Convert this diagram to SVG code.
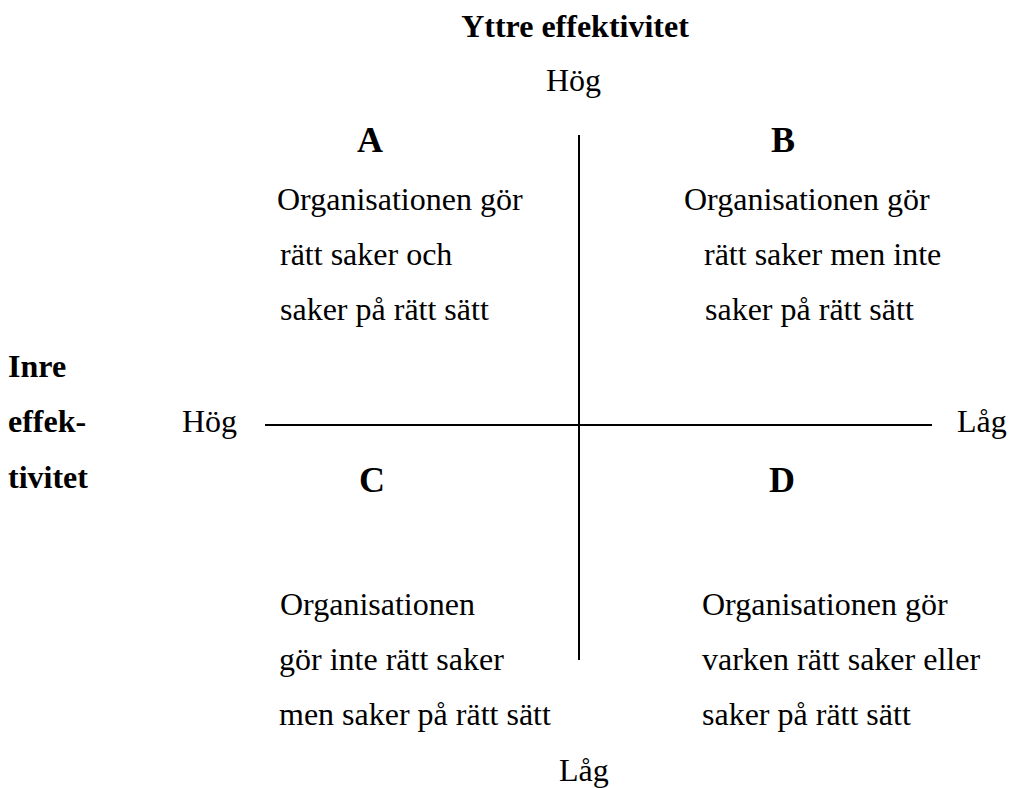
<svg xmlns="http://www.w3.org/2000/svg" width="1009" height="788" viewBox="0 0 1009 788">
<style>
text{font-family:"Liberation Serif","Times New Roman",serif;fill:#000;font-size:32px}
.b{font-weight:bold}
.L{font-weight:bold;font-size:36px}
line{stroke:#000;stroke-width:2}
</style>
<rect width="1009" height="788" fill="#fff"/>
<g id="connectors">
<line x1="579" y1="135" x2="579" y2="660"/>
<line x1="265" y1="425" x2="932" y2="425"/>
</g>
<g id="axis-top"><text class="b" x="575" y="37" text-anchor="middle">Yttre effektivitet</text><text x="546" y="91">Hög</text></g>
<g id="axis-left"><text class="b" x="8" y="377">Inre</text><text class="b" x="8" y="432">effek-</text><text class="b" x="8" y="488">tivitet</text><text x="182" y="432">Hög</text></g>
<g id="axis-right"><text x="957" y="432">Låg</text></g>
<g id="axis-bottom"><text x="559" y="781">Låg</text></g>
<g id="quadA"><text class="L" x="357" y="152">A</text><text x="277" y="210">Organisationen gör</text><text x="280" y="265">rätt saker och</text><text x="280" y="320">saker på rätt sätt</text></g>
<g id="quadB"><text class="L" x="771" y="152">B</text><text x="684" y="210">Organisationen gör</text><text x="704" y="265">rätt saker men inte</text><text x="705" y="320">saker på rätt sätt</text></g>
<g id="quadC"><text class="L" x="359" y="492">C</text><text x="280" y="615">Organisationen</text><text x="279" y="670">gör inte rätt saker</text><text x="279" y="725">men saker på rätt sätt</text></g>
<g id="quadD"><text class="L" x="769" y="492">D</text><text x="702" y="615">Organisationen gör</text><text x="702" y="670">varken rätt saker eller</text><text x="702" y="725">saker på rätt sätt</text></g>
</svg>
